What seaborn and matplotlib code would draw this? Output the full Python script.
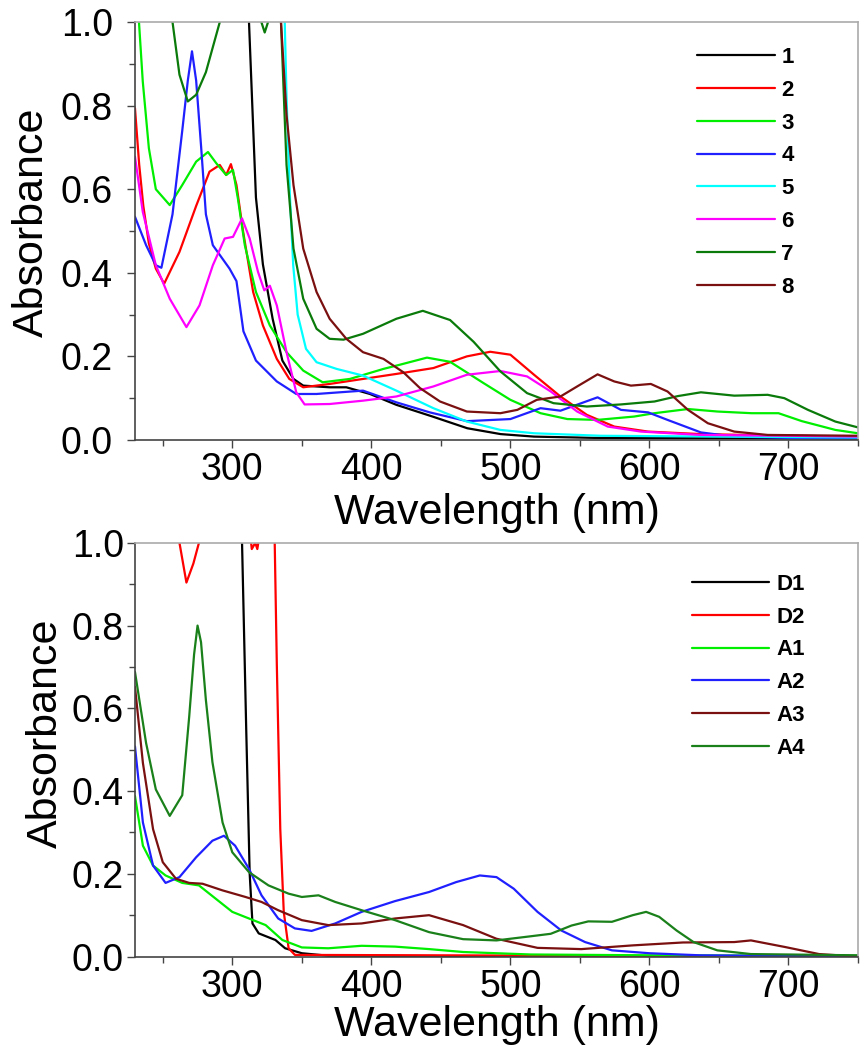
import numpy as np
import pandas as pd
import matplotlib
matplotlib.use("Agg")
import matplotlib.pyplot as plt
from matplotlib.ticker import MultipleLocator, FormatStrFormatter
import seaborn as sns

# ---- top panel: compounds 1-8 ----
wl_1 = [300, 312, 317, 322, 329, 336, 344, 351, 370, 382, 399, 418, 444, 469, 493, 517, 560, 650, 750]
ab_1 = [1.6, 1.0, 0.58, 0.42, 0.29, 0.19, 0.146, 0.13, 0.126, 0.126, 0.11, 0.084, 0.056, 0.028, 0.014, 0.008, 0.005, 0.004, 0.003]

wl_2 = [230, 233, 236, 240, 245, 251, 262, 274, 283.6, 291, 295.6, 299, 303, 307.7, 315, 322, 332, 341, 351, 370,
        394, 418, 444.6, 468.7, 485.5, 500, 517, 536, 555, 574.7, 599, 637, 700, 750]
ab_2 = [0.794, 0.66, 0.56, 0.47, 0.41, 0.374, 0.45, 0.56, 0.642, 0.658, 0.634, 0.66, 0.61, 0.5, 0.354, 0.274, 0.194, 0.146, 0.126, 0.134,
        0.146, 0.158, 0.172, 0.2, 0.211, 0.204, 0.156, 0.104, 0.06, 0.032, 0.02, 0.014, 0.01, 0.008]

wl_3 = [230, 235.6, 240, 245, 255, 264, 274, 282.5, 288.5, 295.6, 300.5, 304, 309, 317, 327, 339, 351, 365, 384.6, 408.7,
        420.5, 440, 456.6, 480.7, 500, 521.7, 541, 562.7, 589, 603.6, 627.7, 649, 673.5, 692.8, 709.6, 733.7, 750]
ab_3 = [1.15, 0.858, 0.698, 0.6, 0.562, 0.61, 0.666, 0.689, 0.662, 0.634, 0.646, 0.578, 0.466, 0.354, 0.274, 0.21, 0.166, 0.138, 0.146, 0.17,
        0.18, 0.197, 0.187, 0.136, 0.096, 0.064, 0.05, 0.048, 0.056, 0.064, 0.074, 0.068, 0.064, 0.064, 0.045, 0.024, 0.016]

wl_4 = [230, 238, 245, 249, 257, 264, 268, 271, 274, 277.6, 281, 286, 298, 303, 308, 317, 332, 346, 360.5, 394, 418, 442,
        468.7, 500, 521.7, 536, 562.7, 579.5, 599, 613, 637, 661, 700, 750]
ab_4 = [0.534, 0.466, 0.418, 0.412, 0.54, 0.74, 0.86, 0.93, 0.86, 0.7, 0.54, 0.466, 0.41, 0.38, 0.26, 0.19, 0.14, 0.11, 0.11, 0.118, 0.09, 0.066,
        0.045, 0.05, 0.076, 0.07, 0.102, 0.072, 0.066, 0.048, 0.018, 0.008, 0.005, 0.004]

wl_5 = [320, 337.7, 339, 341.5, 343.8, 347, 353, 360.6, 375, 394, 418, 444.6, 468.7, 492.8, 517, 565, 650, 750]
ab_5 = [1.6, 1.0, 0.82, 0.578, 0.418, 0.3, 0.218, 0.186, 0.17, 0.154, 0.118, 0.076, 0.044, 0.024, 0.016, 0.01, 0.008, 0.006]

wl_6 = [230, 235.6, 245, 255, 267, 276.4, 286, 294.5, 300.5, 307, 312.5, 318.5, 323, 327, 332, 339, 346, 352, 370, 394,
        418, 444.6, 468.7, 492.8, 512, 529, 548, 570, 594, 637, 700, 750]
ab_6 = [0.678, 0.546, 0.418, 0.338, 0.27, 0.322, 0.418, 0.482, 0.486, 0.53, 0.482, 0.402, 0.358, 0.369, 0.322, 0.21, 0.114, 0.085, 0.086, 0.094,
        0.104, 0.128, 0.156, 0.165, 0.152, 0.116, 0.068, 0.032, 0.02, 0.012, 0.01, 0.008]

wl_7 = [230, 257, 262, 268, 274, 281, 286, 291, 305, 320.9, 323.3, 325.7, 330, 335, 339, 344, 351, 360.6, 370, 380, 394,
        418, 437, 456.6, 473.5, 492.8, 512, 531, 555, 579.5, 603.6, 620.5, 637, 661, 685, 697, 714, 733.7, 750]
ab_7 = [1.6, 1.0, 0.874, 0.81, 0.826, 0.88, 0.94, 1.0, 1.3, 1.0, 0.975, 1.0, 1.3, 1.0, 0.658, 0.458, 0.338, 0.266, 0.242, 0.24, 0.254,
        0.29, 0.309, 0.287, 0.235, 0.164, 0.112, 0.088, 0.08, 0.085, 0.092, 0.105, 0.114, 0.106, 0.108, 0.1, 0.072, 0.044, 0.03]

wl_8 = [320, 335, 339, 344, 351, 360.6, 370, 382, 394, 408.7, 423, 435, 449.4, 468.7, 492.8, 505, 519, 536, 548, 562.7,
        574.7, 586.7, 601, 613, 627.7, 642, 661, 685, 750]
ab_8 = [1.6, 1.0, 0.778, 0.61, 0.458, 0.354, 0.29, 0.242, 0.21, 0.194, 0.162, 0.124, 0.092, 0.068, 0.064, 0.072, 0.096, 0.104, 0.128, 0.157,
        0.14, 0.13, 0.134, 0.116, 0.072, 0.04, 0.02, 0.012, 0.01]

# ---- bottom panel: D1, D2, A1-A4 ----
wl_d1 = [300, 307, 310, 312.5, 314.5, 319, 331, 338, 350, 369, 450, 750]
ab_d1 = [1.6, 1.0, 0.55, 0.2, 0.08, 0.056, 0.04, 0.02, 0.008, 0.002, 0.001, 0.0]

wl_d2 = [250, 262, 267, 272, 276, 300, 312, 314, 316.5, 318, 321, 326, 330.5, 332, 334.5, 337, 340.5, 345, 750]
ab_d2 = [1.5, 1.0, 0.904, 0.95, 1.0, 1.3, 1.05, 0.985, 1.0, 0.985, 1.05, 1.3, 1.0, 0.708, 0.308, 0.108, 0.02, 0.004, 0.0]

wl_a1 = [230, 235.7, 243, 252, 264, 276, 288, 300, 312, 324, 336, 350, 369, 393, 417, 441.5, 466, 514.6, 600, 750]
ab_a1 = [0.388, 0.268, 0.22, 0.196, 0.178, 0.172, 0.14, 0.108, 0.092, 0.076, 0.04, 0.022, 0.02, 0.026, 0.024, 0.018, 0.011, 0.005, 0.003, 0.002]

wl_a2 = [230, 235.7, 243, 252, 262, 274, 285.7, 294, 302, 312, 321, 333, 345, 357, 374, 393, 417, 441.5, 461, 478,
         490, 502.4, 519.5, 536.6, 553.7, 573, 600, 636.6, 750]
ab_a2 = [0.508, 0.324, 0.22, 0.178, 0.192, 0.24, 0.28, 0.292, 0.268, 0.212, 0.148, 0.092, 0.068, 0.062, 0.08, 0.108, 0.134, 0.156, 0.18, 0.196,
         0.192, 0.164, 0.108, 0.063, 0.035, 0.015, 0.008, 0.003, 0.0]

wl_a3 = [230, 235.7, 243, 250, 259.5, 269, 278.6, 292.9, 309.5, 321, 333, 350, 369, 393, 417, 441.5, 466, 490, 519.5,
         551, 588, 624, 661, 673, 697.6, 722, 750]
ab_a3 = [0.652, 0.468, 0.308, 0.228, 0.188, 0.178, 0.176, 0.16, 0.144, 0.132, 0.112, 0.088, 0.076, 0.08, 0.092, 0.1, 0.076, 0.043, 0.021,
         0.018, 0.027, 0.034, 0.035, 0.039, 0.023, 0.006, 0.0]

wl_a4 = [230, 238, 245, 255, 264, 269, 272.5, 275, 277.5, 281, 285.7, 293, 300, 312, 326, 340.5, 350, 362, 374, 393, 417,
         441.5, 466, 490, 514.6, 529, 544, 556, 573, 588, 597.6, 607, 619.5, 631.7, 648.8, 673, 750]
ab_a4 = [0.688, 0.516, 0.404, 0.34, 0.39, 0.58, 0.73, 0.80, 0.76, 0.62, 0.47, 0.324, 0.252, 0.204, 0.172, 0.152, 0.144, 0.148, 0.132, 0.112, 0.088,
         0.059, 0.042, 0.039, 0.049, 0.055, 0.075, 0.085, 0.084, 0.1, 0.108, 0.096, 0.063, 0.035, 0.015, 0.006, 0.003]

top_names = ["1", "2", "3", "4", "5", "6", "7", "8"]
top_series = [(wl_1, ab_1), (wl_2, ab_2), (wl_3, ab_3), (wl_4, ab_4),
              (wl_5, ab_5), (wl_6, ab_6), (wl_7, ab_7), (wl_8, ab_8)]
top_colors = ["#000000", "#ff0000", "#00ee00", "#2020ff", "#00ffff", "#ff00ff", "#0a7a0a", "#7a1010"]

bot_names = ["D1", "D2", "A1", "A2", "A3", "A4"]
bot_series = [(wl_d1, ab_d1), (wl_d2, ab_d2), (wl_a1, ab_a1), (wl_a2, ab_a2), (wl_a3, ab_a3), (wl_a4, ab_a4)]
bot_colors = ["#000000", "#ff0000", "#00ee00", "#2020ff", "#7a1010", "#1a801a"]


def long_df(names, series):
    parts = []
    for n, (w, a) in zip(names, series):
        parts.append(pd.DataFrame({"wl": w, "abs": a, "sample": n}))
    return pd.concat(parts, ignore_index=True)


sns.set_style("ticks")
plt.rcParams["font.family"] = ["Liberation Sans", "DejaVu Sans"]
plt.rcParams["text.color"] = "black"
plt.rcParams["axes.labelcolor"] = "black"

fig = plt.figure(figsize=(8.68, 10.5), dpi=100)
ax1 = fig.add_axes([0.1555, 0.581, 0.833, 0.398])
ax2 = fig.add_axes([0.1555, 0.089, 0.833, 0.394])


def style_axis(ax, names, series, colors, leg_anchor, ypad, xlabelpad):
    df = long_df(names, series)
    sns.lineplot(data=df, x="wl", y="abs", hue="sample", hue_order=names,
                 palette=dict(zip(names, colors)), estimator=None, linewidth=1.6, ax=ax)
    ax.set_xlim(230, 750)
    ax.set_ylim(0, 1.0)
    ax.xaxis.set_major_locator(MultipleLocator(100))
    ax.xaxis.set_minor_locator(MultipleLocator(50))
    ax.yaxis.set_major_locator(MultipleLocator(0.2))
    ax.yaxis.set_minor_locator(MultipleLocator(0.1))
    ax.yaxis.set_major_formatter(FormatStrFormatter("%.1f"))
    ax.tick_params(which="major", direction="out", length=6, width=1.0, labelsize=27,
                   color="#444444", labelcolor="black")
    ax.tick_params(which="minor", direction="out", length=4, width=1.0, color="#444444")
    ax.tick_params(axis="y", pad=ypad)
    ax.tick_params(axis="x", pad=3)
    for s in ["left", "bottom"]:
        ax.spines[s].set_color("#444444")
        ax.spines[s].set_linewidth(1.2)
    for s in ["top", "right"]:
        ax.spines[s].set_visible(True)
        ax.spines[s].set_color("#aaaaaa")
        ax.spines[s].set_linewidth(1.2)
    ax.set_xlabel("Wavelength (nm)", fontsize=31, labelpad=xlabelpad, color="black")
    ax.set_ylabel("Absorbance", fontsize=31, color="black")
    handles, labels = ax.get_legend_handles_labels()
    ax.legend(handles, labels, loc="upper left", bbox_to_anchor=leg_anchor, frameon=False,
              borderaxespad=0, borderpad=0, handlelength=3.5, handletextpad=0.3,
              labelspacing=0.53, prop={"weight": "bold", "size": 16})


style_axis(ax1, top_names, top_series, top_colors, (0.777, 0.94), 10, 3)
style_axis(ax2, bot_names, bot_series, bot_colors, (0.770, 0.925), 2, 0)
ax1.yaxis.set_label_coords(-0.115, 0.52)
ax2.yaxis.set_label_coords(-0.095, 0.54)

fig.savefig("out.png", dpi=100)
